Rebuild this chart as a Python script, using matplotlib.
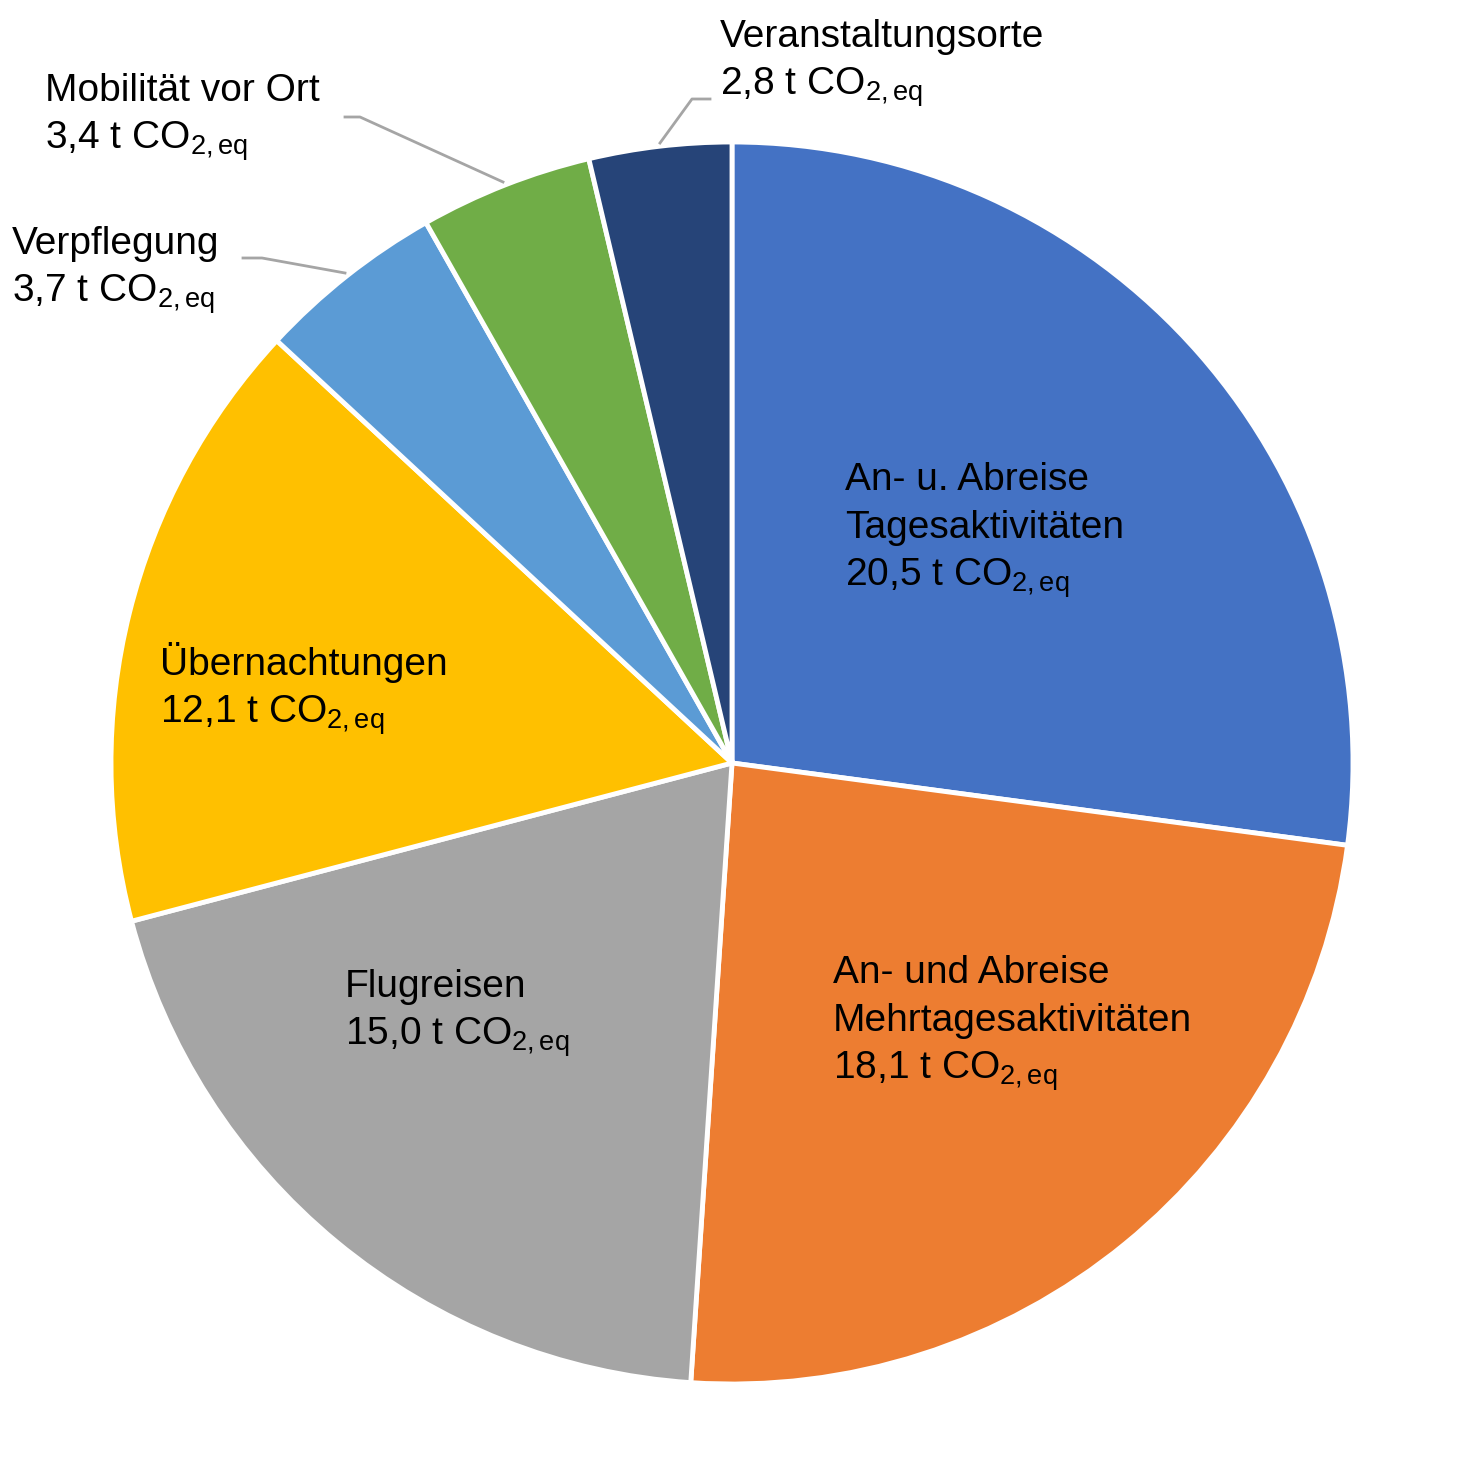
import matplotlib
matplotlib.use("Agg")
import matplotlib.pyplot as plt

categories = ["An- u. Abreise\nTagesaktivitäten", "An- und Abreise\nMehrtagesaktivitäten", "Flugreisen",
              "Übernachtungen", "Verpflegung", "Mobilität vor Ort", "Veranstaltungsorte"]
values = [20.5, 18.1, 15.0, 12.1, 3.7, 3.4, 2.8]
value_labels = ["20,5", "18,1", "15,0", "12,1", "3,7", "3,4", "2,8"]
colors = ["#4472C4", "#ED7D31", "#A5A5A5", "#FFC000", "#5B9BD5", "#70AD47", "#264478"]

plt.rcParams["font.family"] = ["Liberation Sans", "DejaVu Sans"]
plt.rcParams["mathtext.fontset"] = "custom"
plt.rcParams["mathtext.rm"] = "Liberation Sans"
plt.rcParams["mathtext.it"] = "Liberation Sans"

W, H = 1460, 1459
fig = plt.figure(figsize=(W/100, H/100), dpi=100)
ax = fig.add_axes([0, 0, 1, 1])

ax.pie(values, colors=colors, startangle=90, counterclock=False,
       center=(732, H-763), radius=621, frame=True,
       wedgeprops=dict(edgecolor="white", linewidth=3.5))
ax.set_xlim(0, W); ax.set_ylim(0, H); ax.set_aspect("equal"); ax.axis("off")

fs = 28
pos = [(845, 490), (833, 983), (345, 997), (160, 675), (12, 254), (45, 101), (720, 47)]
lh = 48
for cat, v, (x, y) in zip(categories, value_labels, pos):
    lines = cat.split("\n")
    for i, ln in enumerate(lines):
        ax.text(x, H-(y+i*lh), ln, fontsize=fs, va="baseline", ha="left")
    ax.text(x, H-(y+len(lines)*lh), v + r" t CO$_{\mathrm{2,eq}}$", fontsize=fs, va="baseline", ha="left")

lc = "#A5A5A5"
for pts in [[(345, 117), (360, 117), (503, 182)],
            [(243, 258), (262, 258), (345, 273)],
            [(710, 99), (692, 99), (660, 143)]]:
    ax.plot([p[0] for p in pts], [H-p[1] for p in pts], color=lc, lw=2)
ax.set_xlim(0, W); ax.set_ylim(0, H)

fig.savefig("out.png", dpi=100)
